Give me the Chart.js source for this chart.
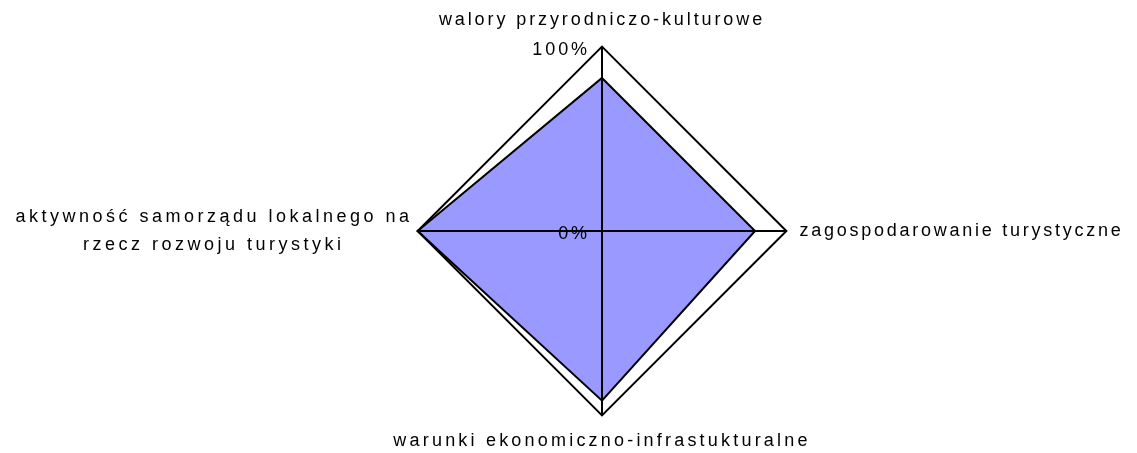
<!DOCTYPE html>
<html lang="pl">
<head>
<meta charset="utf-8">
<title>Radar</title>
<script src="https://cdn.jsdelivr.net/npm/chart.js@4.4.1/dist/chart.umd.min.js"></script>
<style>
  html, body { margin: 0; padding: 0; background: #ffffff; }
  #wrap { position: relative; width: 1137px; height: 453px; }
</style>
</head>
<body>
<div id="wrap"><canvas id="radarChart"></canvas></div>
<script>
// dane wykresu
const kategorie = [
  'walory przyrodniczo-kulturowe',
  'zagospodarowanie turystyczne',
  'warunki ekonomiczno-infrastukturalne',
  ['aktywność samorządu lokalnego na', 'rzecz rozwoju turystyki\u00a0\u00a0\u00a0\u00a0\u00a0\u00a0\u00a0\u00a0']
];
const wartosci = [83, 83, 92, 100];
const wartosciOsi = [0, 100];
const etykietyOsi = ['0%', '100%'];

// odstęp liter dla każdej etykiety (px)
const odstepyEtykiet = [2.9, 2.75, 3.2, 3.5];
const odstepOsi = '2.9px';
const czcionka = "'Liberation Sans', Arial, sans-serif";

// podczas układu boczne etykiety mierzone są wąsko, żeby nie zmniejszały promienia
let trwaUklad = false;
const pluginUklad = {
  id: 'uklad',
  beforeLayout() { trwaUklad = true; },
  afterLayout() { trwaUklad = false; }
};

// etykiety osi (0%, 100%) wyrównane do prawej przy osi pionowej
const pluginEtykietyOsi = {
  id: 'etykietyOsi',
  afterDraw(chart) {
    const skala = chart.scales.r;
    const ctx = chart.ctx;
    ctx.save();
    ctx.letterSpacing = odstepOsi;
    ctx.font = '18px ' + czcionka;
    ctx.fillStyle = '#000000';
    ctx.textAlign = 'right';
    ctx.textBaseline = 'middle';
    wartosciOsi.forEach((v, i) => {
      const d = skala.getDistanceFromCenterForValue(v);
      ctx.fillText(etykietyOsi[i], skala.xCenter - 12, skala.yCenter - d + 3);
    });
    ctx.restore();
  }
};

const ctx = document.getElementById('radarChart').getContext('2d');
const radarChart = new Chart(ctx, {
  type: 'radar',
  data: {
    labels: kategorie,
    datasets: [{
      data: wartosci,
      backgroundColor: '#9999ff',
      borderColor: '#000000',
      borderWidth: 2,
      pointRadius: 0,
      fill: true
    }]
  },
  options: {
    responsive: true,
    maintainAspectRatio: false,
    animation: false,
    layout: { padding: { top: 9, bottom: 0, left: 67, right: 0 } },
    plugins: {
      legend: { display: false },
      tooltip: { enabled: false }
    },
    scales: {
      r: {
        min: 0,
        max: 100,
        ticks: { display: false, stepSize: 100 },
        grid: { color: '#000000', lineWidth: 2, z: 1 },
        angleLines: { color: '#000000', lineWidth: 2 },
        pointLabels: {
          color: '#000000',
          padding: (c) => [16, 13, 15, 5][c.index],
          font: (c) => {
            let odstep = odstepyEtykiet[c.index];
            if (trwaUklad && (c.index === 1 || c.index === 3)) odstep = -8;
            c.chart.ctx.letterSpacing = odstep + 'px';
            return {
              family: czcionka,
              size: 18,
              lineHeight: c.index === 3 ? 1.6 : 1.2
            };
          }
        }
      }
    }
  },
  plugins: [pluginUklad, pluginEtykietyOsi]
});
</script>
</body>
</html>
